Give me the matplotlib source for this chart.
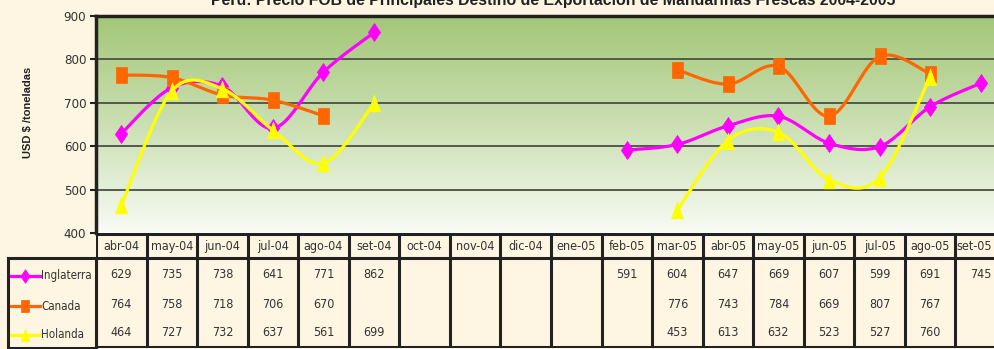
import numpy as np
from matplotlib import pyplot as plt
from matplotlib.path import Path

meses = ['abr-04', 'may-04', 'jun-04', 'jul-04', 'ago-04', 'set-04', 'oct-04', 'nov-04',
         'dic-04', 'ene-05', 'feb-05', 'mar-05', 'abr-05', 'may-05', 'jun-05', 'jul-05',
         'ago-05', 'set-05']

inglaterra = [629, 735, 738, 641, 771, 862, None, None, None, None,
              591, 604, 647, 669, 607, 599, 691, 745]
canada = [764, 758, 718, 706, 670, None, None, None, None, None,
          None, 776, 743, 784, 669, 807, 767, None]
holanda = [464, 727, 732, 637, 561, 699, None, None, None, None,
           None, 453, 613, 632, 523, 527, 760, None]

W, H = 995, 349
BG = '#fef6e2'
plt.rcParams['font.family'] = ['Liberation Sans Narrow', 'DejaVu Sans']
plt.rcParams['font.stretch'] = 'condensed'


def fx(px):
    return px / W


def fy(py):
    return 1 - py / H


def smooth_runs(vals, n=24):
    # excel-like smoothed line: catmull-rom bezier over each unbroken run
    runs, cur = [], []
    for i, v in enumerate(vals):
        if v is None:
            if cur:
                runs.append(cur)
            cur = []
        else:
            cur.append((i, v))
    if cur:
        runs.append(cur)
    out = []
    t = np.linspace(0, 1, n)[:, None]
    for run in runs:
        p = np.array(run, dtype=float)
        if len(p) < 2:
            out.append(p)
            continue
        pp = np.vstack([p[0], p, p[-1]])
        segs = []
        for k in range(1, len(pp) - 2):
            p0, p1, p2, p3 = pp[k - 1], pp[k], pp[k + 1], pp[k + 2]
            c1 = p1 + (p2 - p0) / 6
            c2 = p2 - (p3 - p1) / 6
            b = ((1 - t) ** 3) * p1 + 3 * ((1 - t) ** 2) * t * c1 + 3 * (1 - t) * t ** 2 * c2 + t ** 3 * p2
            segs.append(b if k == 1 else b[1:])
        out.append(np.vstack(segs))
    return out


def poly_marker(pts):
    return Path(pts + [pts[0]], [Path.MOVETO] + [Path.LINETO] * (len(pts) - 1) + [Path.CLOSEPOLY])


# markers are a bit taller than wide
diamond = poly_marker([(0, 1), (0.68, 0), (0, -1), (-0.68, 0)])
rect = poly_marker([(-0.72, -1), (0.72, -1), (0.72, 1), (-0.72, 1)])
tri = poly_marker([(0, 1), (0.72, -1), (-0.72, -1)])

series = [
    ('Inglaterra', inglaterra, '#ff00ff', diamond, 13),
    ('Canada', canada, '#ff6600', rect, 11),
    ('Holanda', holanda, '#ffff00', tri, 12),
]

fig = plt.figure(figsize=(W / 100, H / 100), dpi=100, facecolor=BG)

x0, x1 = 96, 1006
ax = fig.add_axes([fx(x0), fy(233), fx(x1 - x0), fy(16) - fy(233)])
ax.set_xlim(-0.5, len(meses) - 0.5)
ax.set_ylim(400, 900)

# green gradient in the plot area
grad = np.linspace(1, 0, 256)[:, None]
top = np.array([0.64, 0.78, 0.47])
bot = np.array([0.98, 0.99, 0.97])
img = bot + (top - bot) * grad[..., None] ** 0.9
ax.imshow(img, extent=[-0.5, len(meses) - 0.5, 400, 900], aspect='auto', zorder=0)

for yv in [500, 600, 700, 800]:
    ax.axhline(yv, color='#555a4c', lw=1.4, zorder=1)

for i, (name, vals, col, mk, ms) in enumerate(series):
    for seg in smooth_runs(vals):
        ax.plot(seg[:, 0], seg[:, 1], color=col, lw=2.3, zorder=3 + i, solid_capstyle='round')
    xs = [k for k, v in enumerate(vals) if v is not None]
    ys = [v for v in vals if v is not None]
    ax.plot(xs, ys, ls='none', marker=mk, ms=ms, color=col, mec=col, mew=0.5,
            zorder=3 + i, clip_on=False)

ax.set_yticks([400, 500, 600, 700, 800, 900])
ax.set_xticks([])
ax.tick_params(axis='y', direction='out', length=4, width=1.5, color='#222222',
               labelsize=9.5, labelcolor='#333333', pad=3)
for s in ['right', 'bottom']:
    ax.spines[s].set_visible(False)
ax.spines['left'].set_linewidth(2.5)
ax.spines['top'].set_linewidth(2.5)
ax.spines['left'].set_color('#222222')
ax.spines['top'].set_color('#222222')

fig.text(fx(28), fy(112), 'USD $ /toneladas', rotation=90, ha='center', va='center',
         fontsize=8, fontweight='bold', family=['Liberation Sans', 'DejaVu Sans'],
         fontstretch='normal', color='#222222')
fig.text(fx(553), fy(5), 'Perú: Precio FOB de Principales Destino de Exportación de Mandarinas Frescas 2004-2005',
         ha='center', va='baseline', fontsize=11.4, fontweight='bold',
         family=['Liberation Sans', 'DejaVu Sans'], fontstretch='normal', color='#222222')

# data table under the plot
tb = fig.add_axes([fx(x0), fy(348), fx(x1 - x0), fy(233) - fy(348)])
tb.set_xlim(-0.5, len(meses) - 0.5)
tb.set_ylim(115, 0)
tb.axis('off')
lc = '#222222'
for yy in [0.5, 25, 114]:
    tb.axhline(yy, color=lc, lw=2.2)
for k in range(len(meses) + 1):
    tb.axvline(k - 0.5, color=lc, lw=2.2)
row_y = [41, 71, 100]
for k, m in enumerate(meses):
    # last header sits a little left so it stays inside the figure
    hx = k - 0.12 if k == len(meses) - 1 else k
    tb.text(hx, 13.5, m, ha='center', va='center', fontsize=9, color='#333333')
    for r, (name, vals, col, mk, ms) in enumerate(series):
        if vals[k] is not None:
            tb.text(k, row_y[r], str(vals[k]), ha='center', va='center', fontsize=9, color='#333333')

# legend keys at the left of the table
lg = fig.add_axes([fx(8), fy(348), fx(x0 - 8), fy(258) - fy(348)])
lg.set_xlim(8, x0)
lg.set_ylim(348, 258)
lg.set_facecolor(BG)
for s in lg.spines.values():
    s.set_linewidth(2.2)
    s.set_color(lc)
lg.set_xticks([])
lg.set_yticks([])
for r, (name, vals, col, mk, ms) in enumerate(series):
    yy = 258 + row_y[r] - 25 + 2
    lg.plot([11, 40], [yy, yy], color=col, lw=2.3)
    lg.plot([25], [yy], marker=mk, ms=ms * 0.75, color=col, mec=col, mew=0.5)
    lg.text(41, yy, name, ha='left', va='center', fontsize=8.3, color='#333333')

fig.savefig('out.png', dpi=100, facecolor=BG)
